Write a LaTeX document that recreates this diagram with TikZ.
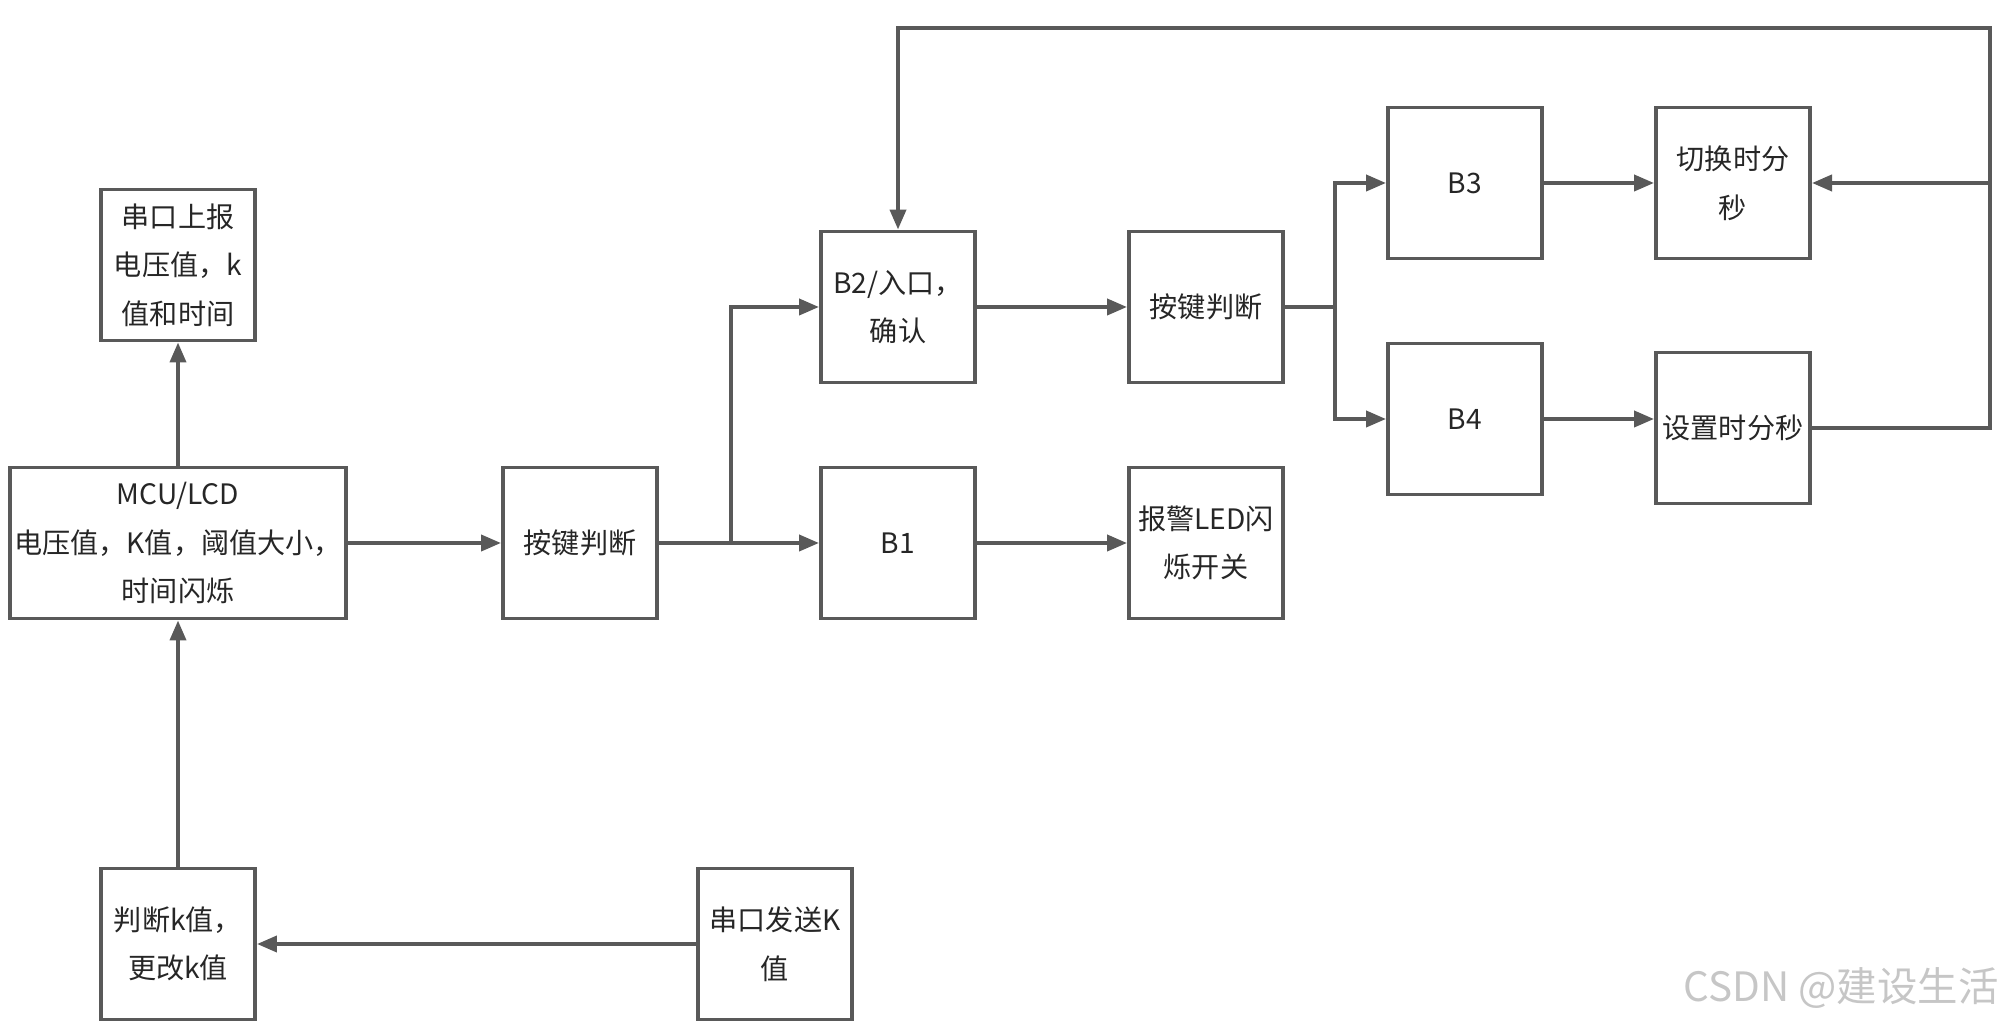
\documentclass[tikz,border=0pt]{standalone}
\usepackage{fontspec}
\setmainfont{Noto Sans CJK SC}
\usepackage{tikz}
\usetikzlibrary{arrows.meta}

\definecolor{linegray}{HTML}{595959}
\definecolor{txtgray}{HTML}{262626}

\begin{document}
\begin{tikzpicture}[x=0.01cm, y=-0.01cm, >={Triangle[length=0.2cm, width=0.16cm]},
    box/.style={draw=linegray, line width=1.1pt, fill=white, minimum width=1.54cm,
      minimum height=1.51cm, align=center, inner sep=1pt, text=txtgray,
      font=\fontsize{8}{13.8}\selectfont},
    arr/.style={->, draw=linegray, line width=1.1pt},
    lnk/.style={draw=linegray, line width=1.1pt}]
            \useasboundingbox (0,0) rectangle (2000,1025);

            % Boxes
            \node[box] (report) at (178,265) {串口上报\\电压值，k\\值和时间};
            \node[box, minimum width=3.36cm] (mcu) at (178,543) {MCU/LCD\\电压值，K值，阈值大小，\\时间闪烁};
            \node[box] (key1) at (580,543) {按键判断};
            \node[box] (b2) at (898,307) {B2/入口，\\确认};
            \node[box] (b1) at (898,543) {B1};
            \node[box] (key2) at (1206,307) {按键判断};
            \node[box] (led) at (1206,543) {报警LED闪\\烁开关};
            \node[box] (b3) at (1465,183) {B3};
            \node[box] (b4) at (1465,419) {B4};
            \node[box] (swt) at (1733,183) {切换时分\\秒};
            \node[box] (sett) at (1733,428) {设置时分秒};
            \node[box] (judge) at (178,944) {判断k值，\\更改k值};
            \node[box] (send) at (775,944) {串口发送K\\值};

            % Branch points
            \coordinate (split1) at (731,543);
            \coordinate (split2) at (1335,307);
            \coordinate (corner) at (1990,28);

            % Connectors
            \draw[arr] (mcu) -- (report);
            \draw[arr] (judge) -- (mcu);
            \draw[arr] (send) -- (judge);
            \draw[arr] (mcu) -- (key1);
            \draw[lnk] (key1) -- (split1);
            \draw[arr] (split1) -- (b1);
            \draw[arr] (split1) |- (b2);
            \draw[arr] (b2) -- (key2);
            \draw[arr] (b1) -- (led);
            \draw[lnk] (key2) -- (split2);
            \draw[arr] (split2) |- (b3);
            \draw[arr] (split2) |- (b4);
            \draw[arr] (b3) -- (swt);
            \draw[arr] (b4) -- (b4 -| sett.west);

            % Feedback loop
            \draw[arr] (sett.east) -| (corner) -| (b2.north);
            \draw[arr] (corner |- swt.east) -- (swt.east);

            % Watermark
            \node[text=gray!45, font=\fontsize{11.5}{14}\selectfont] (mark) at (1841,988) {CSDN @建设生活};
        \end{tikzpicture}
\end{document}
